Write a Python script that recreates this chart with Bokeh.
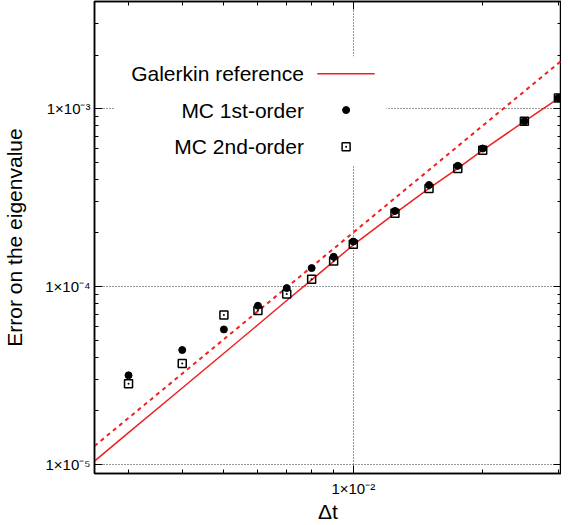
import math
from bokeh.plotting import figure
from bokeh.models import FixedTicker, LogAxis, Label, Range1d, CustomJSTickFormatter
from bokeh.embed import file_html
from bokeh.resources import INLINE

# ---------------- data ----------------
dt = [0.003, 0.004, 0.005, 0.006, 0.007, 0.008, 0.009, 0.01,
      0.0125, 0.015, 0.0175, 0.02, 0.025, 0.03]
mc_first = [3.17e-5, 4.40e-5, 5.74e-5, 7.80e-5, 9.80e-5, 1.27e-4, 1.47e-4, 1.79e-4,
            2.66e-4, 3.72e-4, 4.77e-4, 5.97e-4, 8.49e-4, 1.147e-3]
mc_second = [2.84e-5, 3.69e-5, 6.91e-5, 7.34e-5, 9.07e-5, 1.10e-4, 1.39e-4, 1.73e-4,
             2.58e-4, 3.56e-4, 4.61e-4, 5.84e-4, 8.49e-4, 1.147e-3]
galerkin_dt = [0.0025, 0.003, 0.004, 0.005, 0.006, 0.007, 0.008, 0.009, 0.01,
               0.0125, 0.015, 0.0175, 0.02, 0.025, 0.03, 0.0305]
galerkin = [1.045e-5, 1.51e-5, 2.69e-5, 4.22e-5, 6.10e-5, 8.35e-5, 1.09e-4, 1.385e-4, 1.713e-4,
            2.58e-4, 3.56e-4, 4.61e-4, 5.84e-4, 8.49e-4, 1.142e-3, 1.17e-3]
slope2_dt = [0.0025, 0.0305]
slope2 = [1.27e-5, 1.86e-3]

x_major_ticks = [0.01]
x_minor_ticks = [0.003, 0.004, 0.005, 0.006, 0.007, 0.008, 0.009, 0.02, 0.03]
x_tick_labels = ["1×10⁻²"]
y_major_ticks = [1e-5, 1e-4, 1e-3]
y_minor_ticks = [2e-5, 3e-5, 4e-5, 5e-5, 6e-5, 7e-5, 8e-5, 9e-5,
                 2e-4, 3e-4, 4e-4, 5e-4, 6e-4, 7e-4, 8e-4, 9e-4, 2e-3, 3e-3]
y_tick_labels = ["1×10⁻⁵", "1×10⁻⁴", "1×10⁻³"]
legend_labels = ["Galerkin reference", "MC 1st-order", "MC 2nd-order"]
x_title = "Δt"
y_title = "Error on the eigenvalue"

X0, X1 = 0.0025, 0.0305
Y0, Y1 = 8.9e-6, 4e-3
FONT = "Liberation Sans"
RED = "#f02020"

p = figure(frame_width=467, frame_height=472,
           x_axis_type="log", y_axis_type="log",
           x_range=Range1d(X0, X1), y_range=Range1d(Y0, Y1),
           output_backend="svg", toolbar_location=None,
           min_border_left=90, min_border_right=0, min_border_top=1, min_border_bottom=40)
p.background_fill_color = "white"
p.border_fill_color = "white"
p.outline_line_color = "black"
p.outline_line_width = 1.5

xt = FixedTicker(ticks=x_major_ticks, minor_ticks=x_minor_ticks)
yt = FixedTicker(ticks=y_major_ticks, minor_ticks=y_minor_ticks)

top_axis = LogAxis()
right_axis = LogAxis()
p.add_layout(top_axis, "above")
p.add_layout(right_axis, "right")
bottom_axis = p.below[0]
left_axis = p.left[0]

code = """
let best = -1, bd = 1e9;
for (let i = 0; i < tvals.length; i++) {
  const d = Math.abs(Math.log10(tvals[i]) - Math.log10(tick));
  if (d < bd) { bd = d; best = i; }
}
return (best >= 0 && bd < 1e-6) ? tlabels[best] : "";
"""
bottom_axis.formatter = CustomJSTickFormatter(args=dict(tvals=x_major_ticks, tlabels=x_tick_labels), code=code)
left_axis.formatter = CustomJSTickFormatter(args=dict(tvals=y_major_ticks, tlabels=y_tick_labels), code=code)
blank = CustomJSTickFormatter(code="return '';")
top_axis.formatter = blank
right_axis.formatter = blank

for ax in (bottom_axis, top_axis):
    ax.ticker = xt
for ax in (left_axis, right_axis):
    ax.ticker = yt
for ax in (bottom_axis, top_axis, left_axis, right_axis):
    ax.major_tick_in = 8
    ax.major_tick_out = 0
    ax.minor_tick_in = 4
    ax.minor_tick_out = 0
    ax.axis_line_width = 1.5
    ax.axis_line_color = "black"
    ax.major_tick_line_color = "black"
    ax.minor_tick_line_color = "black"
    ax.major_label_text_font = FONT
    ax.major_label_text_font_size = "15px"
    ax.major_label_text_color = "black"
top_axis.major_label_standoff = 0
right_axis.major_label_standoff = 0
bottom_axis.major_label_standoff = 6
left_axis.major_label_standoff = 4

bottom_axis.axis_label = x_title
left_axis.axis_label = y_title
for ax in (bottom_axis, left_axis):
    ax.axis_label_text_font = FONT
    ax.axis_label_text_font_size = "21px"
    ax.axis_label_text_font_style = "normal"
    ax.axis_label_text_color = "black"
bottom_axis.axis_label_standoff = 0
left_axis.axis_label_standoff = 16

p.xgrid.ticker = xt
p.ygrid.ticker = yt
for g in (p.xgrid, p.ygrid):
    g.grid_line_color = "black"
    g.grid_line_dash = "1 2"
    g.grid_line_width = 1
    g.grid_line_alpha = 0.8


# helpers: fraction of frame -> data coordinates (for the key only)
def fx(f):
    return 10 ** (math.log10(X0) + f * (math.log10(X1) - math.log10(X0)))


def fy(f):
    return 10 ** (math.log10(Y1) - f * (math.log10(Y1) - math.log10(Y0)))


# opaque key background
p.quad(left=[fx(0.043)], right=[fx(0.625)], top=[fy(0.116)], bottom=[fy(0.347)],
       fill_color="white", line_color=None)

# data
p.line(galerkin_dt, galerkin, line_color=RED, line_width=1.5)
p.line(slope2_dt, slope2, line_color=RED, line_width=2, line_dash="4 4")
p.scatter(dt, mc_first, marker="circle", size=7, fill_color="black", line_color="black")
p.scatter(dt, mc_second, marker="square_dot", size=8, fill_color=None,
          line_color="black", line_width=1.5)

# key
rows = [0.153, 0.230, 0.3075]
for lab, r in zip(legend_labels, rows):
    p.add_layout(Label(x=fx(0.4484), y=fy(r), text=lab, text_align="right",
                       text_baseline="middle", text_font=FONT, text_font_size="21px",
                       text_color="black"))
p.line([fx(0.477), fx(0.600)], [fy(rows[0]), fy(rows[0])], line_color=RED, line_width=1.5)
p.scatter([fx(0.5388)], [fy(rows[1])], marker="circle", size=7, fill_color="black", line_color="black")
p.scatter([fx(0.5388)], [fy(rows[2])], marker="square_dot", size=8, fill_color=None,
          line_color="black", line_width=1.5)

open("out.html", "w").write(file_html(p, INLINE))
